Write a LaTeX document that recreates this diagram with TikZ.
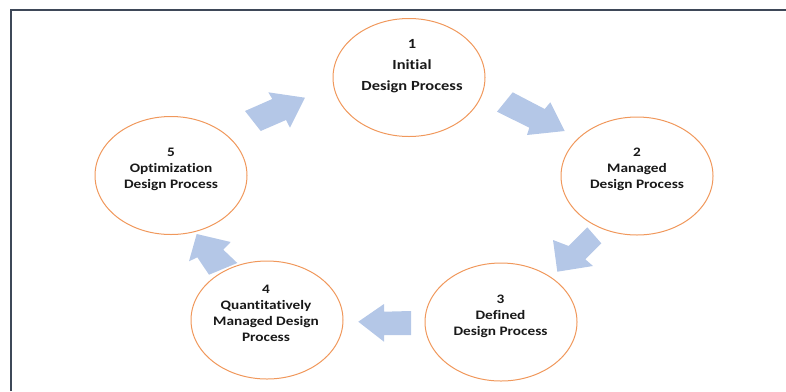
\documentclass[tikz,border=0pt]{standalone}
\usepackage{fontspec}
\newfontfamily\lblfont{Carlito}[FakeStretch=1.18, Ligatures=NoCommon]
\usetikzlibrary{shapes.geometric}
\definecolor{ringc}{RGB}{240,152,92}
\definecolor{arrc}{RGB}{180,199,231}
\definecolor{framec}{RGB}{62,72,88}
\tikzset{
  ring/.style={ellipse, draw=ringc, line width=1bp, minimum width=152bp, minimum height=118bp, inner sep=0pt},
  txt/.style={align=center, inner sep=0pt, text=black!90, font=\lblfont\bfseries\fontsize{13}{16}\selectfont},
  txtbig/.style={txt, font=\lblfont\bfseries\fontsize{14}{21}\selectfont},
  blockarrow/.style={fill=arrc, draw=none}
}
\begin{document}
\begin{tikzpicture}[x=1bp,y=-1bp]
\useasboundingbox (0,0) rectangle (786,391);
% frame
\draw[framec, line width=2bp] (11,391) -- (11,10) -- (786,10);
% rings
\node[ring] (e1) at (409,77.5) {};
\node[ring] (e2) at (637,176) {};
\node[ring] (e3) at (501,322) {};
\node[ring] (e4) at (267,320) {};
\node[ring] (e5) at (171,175.5) {};
% texts
\node[txtbig] (t1) at (412,66) {1\\Initial\\Design Process};
\node[txt] (t2) at (637,169) {2\\Managed\\Design Process};
\node[txt] (t3) at (500.5,316) {3\\Defined\\Design Process};
\node[txt] (t4) at (266,313.5) {4\\Quantitatively\\Managed Design\\Process};
\node[txt] (t5) at (171,169) {5\\Optimization\\Design Process};
% block arrows
\fill[blockarrow] (245,111) -- (272.3,99) -- (268.3,92.3) -- (305,97.7) -- (290,127.7) -- (286,120) -- (260.7,131) -- cycle;
\fill[blockarrow] (512.7,92.3) -- (544.7,109) -- (550.3,102.3) -- (564.7,131) -- (527,135) -- (529.3,127.7) -- (497,111.7) -- cycle;
\fill[blockarrow] (587.3,227.3) -- (601.3,243.3) -- (585.3,259.3) -- (593,266) -- (557.3,271.7) -- (553,240) -- (568.7,246) -- cycle;
\fill[blockarrow] (411,311) -- (384,311.7) -- (384,304) -- (358.3,321.7) -- (384,341.7) -- (384,335) -- (411,335) -- cycle;
\fill[blockarrow] (209,274.7) -- (197.3,257.3) -- (189,261.3) -- (196.7,234) -- (230.7,242) -- (223.3,249.7) -- (237.3,263) -- cycle;
\end{tikzpicture}
\end{document}
